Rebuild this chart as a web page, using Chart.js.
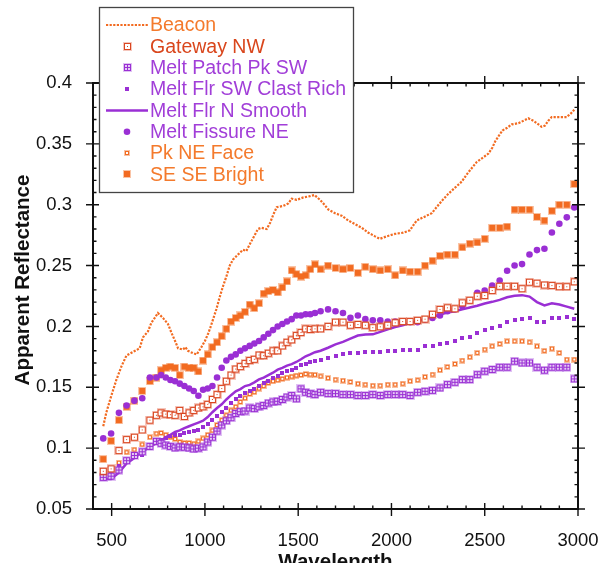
<!DOCTYPE html>
<html>
<head>
<meta charset="utf-8">
<script src="https://cdn.jsdelivr.net/npm/chart.js@4/dist/chart.umd.min.js"></script>
<style>
html,body{margin:0;padding:0;background:#fff;}
#wrap{width:598px;height:563px;}
canvas{display:block;}
</style>
</head>
<body>
<div id="wrap"><canvas id="chart" width="598" height="563"></canvas></div>
<script>
// ---------------- data ----------------
const seriesNames = ['Beacon', 'Gateway NW', 'Melt Patch Pk SW', 'Melt Flr SW Clast Rich',
  'Melt Flr N Smooth', 'Melt Fissure NE', 'Pk NE Face', 'SE SE Bright'];

const xTitle = 'Wavelength';
const yTitle = 'Apparent Reflectance';
const xTickValues = [500, 1000, 1500, 2000, 2500, 3000];
const xTickLabels = ['500', '1000', '1500', '2000', '2500', '3000'];
const yTickValues = [0.05, 0.1, 0.15, 0.2, 0.25, 0.3, 0.35, 0.4];
const yTickLabels = ['0.05', '0.1', '0.15', '0.2', '0.25', '0.3', '0.35', '0.4'];

const beaconWavelengths = [455,471,498,525,552,579,614,650,668,695,713,731,748,775,802,820,843,856,883,895,
  909,936,956,981,1000,1017,1029,1044,1061,1079,1097,1115,1133,1151,1177,1204,1222,1249,1267,1284,
  1302,1331,1349,1367,1385,1420,1447,1465,1492,1528,1563,1587,1617,1635,1662,1698,1733,1769,1805,1841,
  1876,1912,1938,1974,2018,2063,2099,2135,2162,2189,2216,2242,2269,2305,2341,2377,2404,2430,2457,2493,
  2520,2541,2556,2573,2595,2618,2645,2681,2708,2734,2761,2779,2805,2823,2841,2859,2895,2939,2962,2980];
const beacon = [0.118,0.129,0.143,0.156,0.167,0.176,0.179,0.182,0.191,0.196,0.203,0.207,0.211,0.207,0.202,0.195,0.187,0.182,0.181,0.183,
  0.180,0.178,0.177,0.183,0.188,0.194,0.199,0.206,0.214,0.224,0.233,0.241,0.250,0.255,0.259,0.263,0.262,0.270,0.275,0.280,
  0.281,0.280,0.285,0.292,0.298,0.299,0.301,0.305,0.304,0.306,0.307,0.308,0.304,0.301,0.296,0.293,0.291,0.287,0.284,0.281,
  0.277,0.274,0.272,0.274,0.276,0.277,0.279,0.287,0.289,0.291,0.293,0.298,0.303,0.309,0.314,0.319,0.325,0.330,0.335,0.339,
  0.342,0.347,0.352,0.356,0.361,0.363,0.366,0.367,0.369,0.371,0.369,0.367,0.364,0.365,0.369,0.372,0.372,0.372,0.375,0.378];

const wavelengths = [455,497,539,580,622,664,705,740,765,790,
  815,840,865,890,915,940,965,990,1015,1040,
  1065,1090,1115,1140,1165,1190,1215,1240,1265,1290,
  1315,1340,1365,1390,1415,1440,1465,1490,1515,1540,
  1565,1590,1620,1660,1700,1740,1780,1820,1860,1900,
  1940,1980,2020,2060,2100,2140,2180,2220,2260,2300,
  2340,2380,2420,2460,2500,2540,2580,2620,2660,2700,
  2740,2780,2820,2860,2900,2940,2980];

const gatewayNW = [0.081,0.083,0.098,0.107,0.109,0.115,0.123,0.127,0.129,0.128,
  0.1275,0.127,0.131,0.126,0.129,0.131,0.133,0.134,0.136,0.140,
  0.144,0.149,0.155,0.160,0.165,0.167,0.1695,0.172,0.173,0.1765,
  0.176,0.178,0.180,0.180,0.184,0.187,0.189,0.1925,0.195,0.198,
  0.1975,0.198,0.198,0.200,0.2035,0.2035,0.201,0.2016,0.201,0.199,
  0.1997,0.201,0.203,0.204,0.204,0.205,0.206,0.210,0.214,0.2153,
  0.2145,0.2194,0.2215,0.2248,0.2254,0.2295,0.233,0.233,0.233,0.231,
  0.2363,0.2355,0.234,0.2336,0.2326,0.2326,0.2367];

const meltPatchPkSW = [0.076,0.077,0.082,0.0897,0.094,0.097,0.1015,0.1056,0.104,0.1025,
  0.1015,0.1002,0.101,0.1008,0.1002,0.0993,0.100,0.101,0.105,0.109,
  0.114,0.119,0.1225,0.125,0.1285,0.130,0.1305,0.133,0.1325,0.134,
  0.135,0.137,0.138,0.1385,0.140,0.142,0.1432,0.1405,0.1487,0.1459,
  0.1448,0.144,0.1459,0.1448,0.1448,0.144,0.144,0.1432,0.1432,0.144,
  0.1432,0.144,0.144,0.144,0.1432,0.1459,0.1467,0.1475,0.1495,0.1522,
  0.1541,0.1563,0.1563,0.1604,0.1632,0.1646,0.1665,0.1665,0.1714,0.170,
  0.170,0.1665,0.164,0.1665,0.1665,0.1665,0.1569];

const meltFlrSWClastRich = [0.077,0.079,0.085,0.090,0.094,0.0946,0.100,0.104,0.107,0.108,
  0.110,0.1105,0.111,0.1125,0.113,0.1138,0.115,0.117,0.1195,0.123,
  0.1265,0.130,0.133,0.137,0.140,0.1425,0.145,0.147,0.149,0.151,
  0.1535,0.1555,0.1578,0.1595,0.1615,0.163,0.1645,0.166,0.168,0.169,
  0.1705,0.1712,0.1722,0.174,0.176,0.1775,0.1783,0.1783,0.179,0.179,
  0.179,0.180,0.180,0.181,0.181,0.181,0.1837,0.1837,0.1857,0.1865,
  0.1884,0.1906,0.1914,0.1947,0.1969,0.1988,0.2007,0.2035,0.2051,0.2062,
  0.207,0.2035,0.2035,0.207,0.207,0.2079,0.2062];

const meltFlrNSmooth = [0.0747,0.0747,0.080,0.0875,0.092,0.097,0.101,0.104,0.106,0.109,
  0.111,0.1133,0.1146,0.1165,0.118,0.1195,0.121,0.1225,0.1255,0.1295,
  0.133,0.136,0.140,0.1435,0.1467,0.1485,0.151,0.152,0.154,0.1565,
  0.158,0.160,0.162,0.1645,0.166,0.1678,0.169,0.1708,0.173,0.1755,
  0.177,0.1788,0.180,0.1825,0.1852,0.1873,0.190,0.1925,0.1933,0.1935,
  0.1955,0.1977,0.1995,0.201,0.2027,0.204,0.2062,0.2078,0.2098,0.2115,
  0.2125,0.214,0.2155,0.217,0.2188,0.2202,0.2218,0.224,0.2252,0.2257,
  0.2245,0.220,0.2172,0.219,0.218,0.2163,0.2145];

const meltFissureNE = [0.108,0.112,0.129,0.135,0.139,0.141,0.158,0.158,0.160,0.158,
  0.156,0.155,0.153,0.151,0.149,0.147,0.143,0.148,0.149,0.151,
  0.158,0.166,0.172,0.175,0.177,0.180,0.182,0.184,0.186,0.188,
  0.191,0.194,0.197,0.200,0.202,0.204,0.206,0.209,0.209,0.210,
  0.210,0.211,0.2125,0.214,0.2125,0.211,0.207,0.209,0.206,0.205,
  0.205,0.204,0.204,0.2035,0.2035,0.2035,0.2057,0.207,0.209,0.2125,
  0.214,0.2166,0.2215,0.2276,0.2295,0.2336,0.2377,0.2457,0.250,0.2512,
  0.2591,0.2627,0.2638,0.2772,0.2844,0.2896,0.2978];

const pkNEFace = [0.077,0.079,0.088,0.0966,0.0988,0.103,0.109,0.112,0.1125,0.111,
  0.109,0.1075,0.105,0.1043,0.1043,0.1037,0.1056,0.108,0.111,0.1145,
  0.119,0.123,0.127,0.131,0.134,0.138,0.141,0.1445,0.146,0.149,
  0.151,0.1536,0.155,0.1558,0.157,0.158,0.1588,0.1596,0.160,0.161,
  0.1605,0.1603,0.159,0.1575,0.1563,0.1555,0.1544,0.153,0.1522,0.1514,
  0.1514,0.1522,0.1522,0.153,0.155,0.1558,0.1586,0.1605,0.164,0.1668,
  0.1692,0.172,0.1747,0.1783,0.181,0.1837,0.1857,0.1878,0.1878,0.1878,
  0.187,0.1837,0.180,0.1818,0.1783,0.1728,0.1728];

const seSEBright = [0.091,0.106,0.123,0.134,0.139,0.147,0.155,0.158,0.164,0.166,
  0.167,0.166,0.160,0.167,0.166,0.166,0.163,0.172,0.177,0.183,
  0.187,0.192,0.198,0.204,0.207,0.209,0.212,0.218,0.215,0.219,
  0.227,0.229,0.230,0.228,0.232,0.237,0.246,0.243,0.241,0.242,
  0.247,0.251,0.247,0.250,0.248,0.247,0.248,0.244,0.249,0.247,
  0.246,0.247,0.242,0.246,0.245,0.245,0.250,0.254,0.258,0.259,
  0.259,0.265,0.268,0.269,0.272,0.281,0.281,0.282,0.296,0.296,
  0.296,0.290,0.287,0.295,0.300,0.300,0.317];

// ---------------- styles ----------------
const ORANGE = '#F26B21', RED = '#DA4620', PURPLE = '#9A2FD4';
const legendTextColors = ['#F47A2C', '#D9461C', '#A13ED8', '#A13ED8', '#A13ED8', '#A13ED8', '#F47A2C', '#F47A2C'];
const FONT = '"Liberation Sans", Arial, Helvetica, sans-serif';

function makeIcon(size, paint) {
  const c = document.createElement('canvas');
  c.width = size; c.height = size;
  paint(c.getContext('2d'));
  return c;
}
const icons = {
  gateway: makeIcon(9, g => {
    g.fillStyle = 'rgba(225,95,65,0.35)'; g.fillRect(0, 0, 9, 9);
    g.fillStyle = RED; g.fillRect(1, 1, 7, 7);
    g.fillStyle = '#fff'; g.fillRect(2, 2, 5, 5);
    g.fillStyle = RED; g.fillRect(4, 4, 1, 1);
  }),
  patch: makeIcon(9, g => {
    g.fillStyle = 'rgba(165,80,220,0.35)'; g.fillRect(0, 0, 9, 9);
    g.fillStyle = PURPLE; g.fillRect(1, 1, 7, 7);
    g.fillStyle = '#E6CCF5';
    [[2, 2], [5, 2], [2, 5], [5, 5]].forEach(([a, b]) => g.fillRect(a, b, 2, 2));
  }),
  clast: makeIcon(4, g => { g.fillStyle = PURPLE; g.fillRect(0, 0, 4, 4); }),
  pkne: makeIcon(6, g => {
    g.fillStyle = 'rgba(242,120,50,0.45)'; g.fillRect(0, 0, 6, 6);
    g.fillStyle = ORANGE; g.fillRect(1, 1, 4, 4);
    g.fillStyle = '#fff'; g.fillRect(2, 2, 2, 2);
  }),
  sese: makeIcon(8, g => {
    g.fillStyle = 'rgba(242,107,33,0.4)'; g.fillRect(0, 0, 8, 8);
    g.fillStyle = ORANGE; g.fillRect(1, 1, 6, 6);
  })
};

const xy = (xs, ys) => xs.map((x, i) => ({ x: x, y: ys[i] }));

const datasets = [
  { label: seriesNames[0], data: xy(beaconWavelengths, beacon), showLine: true, borderColor: ORANGE,
    borderWidth: 2.2, borderDash: [2.2, 1.4], pointRadius: 0, tension: 0 },
  { label: seriesNames[1], data: xy(wavelengths, gatewayNW), showLine: false, pointStyle: icons.gateway, pointRadius: 4.5 },
  { label: seriesNames[2], data: xy(wavelengths, meltPatchPkSW), showLine: false, pointStyle: icons.patch, pointRadius: 4.5 },
  { label: seriesNames[3], data: xy(wavelengths, meltFlrSWClastRich), showLine: false, pointStyle: icons.clast, pointRadius: 2 },
  { label: seriesNames[4], data: xy(wavelengths, meltFlrNSmooth), showLine: true, borderColor: PURPLE,
    borderWidth: 2.5, pointRadius: 0, tension: 0 },
  { label: seriesNames[5], data: xy(wavelengths, meltFissureNE), showLine: false, pointStyle: 'circle',
    pointRadius: 3.3, pointBackgroundColor: PURPLE, pointBorderWidth: 0, borderColor: PURPLE },
  { label: seriesNames[6], data: xy(wavelengths, pkNEFace), showLine: false, pointStyle: icons.pkne, pointRadius: 3 },
  { label: seriesNames[7], data: xy(wavelengths, seSEBright), showLine: false, pointStyle: icons.sese, pointRadius: 4 }
];

// ---------------- plugins ----------------
const framePlugin = {
  id: 'frame',
  afterDraw(chart) {
    const { ctx, chartArea: a, scales: { x, y } } = chart;
    ctx.save();
    ctx.strokeStyle = '#111';
    ctx.lineWidth = 2;
    ctx.strokeRect(a.left, a.top, a.right - a.left, a.bottom - a.top);
    ctx.lineWidth = 1.4;
    ctx.beginPath();
    for (let v = 500; v <= 3000; v += 100) {
      const px = x.getPixelForValue(v);
      const major = xTickValues.includes(v);
      if (major) {
        ctx.moveTo(px, a.bottom - 6); ctx.lineTo(px, a.bottom + 7);
        ctx.moveTo(px, a.top - 7); ctx.lineTo(px, a.top + 6);
      } else {
        ctx.moveTo(px, a.bottom - 3.5); ctx.lineTo(px, a.bottom);
        ctx.moveTo(px, a.top); ctx.lineTo(px, a.top + 3.5);
      }
    }
    for (let k = 5; k <= 40; k++) {
      const v = k / 100;
      const py = y.getPixelForValue(v);
      const major = k % 5 === 0;
      if (major) {
        ctx.moveTo(a.left - 7, py); ctx.lineTo(a.left + 6, py);
        ctx.moveTo(a.right - 6, py); ctx.lineTo(a.right + 7, py);
      } else {
        ctx.moveTo(a.left, py); ctx.lineTo(a.left + 3.5, py);
        ctx.moveTo(a.right - 3.5, py); ctx.lineTo(a.right, py);
      }
    }
    ctx.stroke();

    // axis titles
    ctx.fillStyle = '#111';
    ctx.font = 'bold 20.5px ' + FONT;
    ctx.textAlign = 'center';
    ctx.textBaseline = 'middle';
    ctx.fillText(xTitle, (a.left + a.right) / 2, 562);
    ctx.translate(23, 280);
    ctx.rotate(-Math.PI / 2);
    ctx.fillText(yTitle, 0, 0);
    ctx.restore();
  }
};

const legendPlugin = {
  id: 'boxLegend',
  afterDraw(chart) {
    const ctx = chart.ctx;
    const box = { x: 99, y: 7, w: 254, h: 185 };
    ctx.save();
    ctx.fillStyle = '#fff';
    ctx.fillRect(box.x, box.y, box.w, box.h);
    ctx.strokeStyle = '#444';
    ctx.lineWidth = 1.3;
    ctx.strokeRect(box.x + 0.5, box.y + 0.5, box.w, box.h);
    ctx.font = '19.5px ' + FONT;
    ctx.textBaseline = 'middle';
    ctx.textAlign = 'left';
    chart.data.datasets.forEach((ds, i) => {
      const cy = 25 + i * 21.35;
      const mx = 127;
      if (ds.showLine) {
        ctx.save();
        ctx.strokeStyle = ds.borderColor;
        ctx.lineWidth = ds.borderWidth;
        ctx.setLineDash(ds.borderDash || []);
        ctx.beginPath();
        ctx.moveTo(106, cy); ctx.lineTo(148, cy);
        ctx.stroke();
        ctx.restore();
      } else if (ds.pointStyle === 'circle') {
        ctx.fillStyle = ds.pointBackgroundColor;
        ctx.beginPath(); ctx.arc(mx, cy, ds.pointRadius, 0, Math.PI * 2); ctx.fill();
      } else {
        const im = ds.pointStyle;
        ctx.drawImage(im, Math.round(mx - im.width / 2), Math.round(cy - im.height / 2));
      }
      ctx.fillStyle = legendTextColors[i];
      ctx.fillText(ds.label, 150, cy + 1);
    });
    ctx.restore();
  }
};

// ---------------- chart ----------------
Chart.defaults.font.family = FONT;
new Chart(document.getElementById('chart'), {
  type: 'line',
  data: { datasets: datasets },
  options: {
    responsive: false,
    devicePixelRatio: 1,
    animation: false,
    layout: { padding: { top: 83, right: 20, bottom: 0, left: 0 } },
    plugins: { legend: { display: false }, tooltip: { enabled: false } },
    scales: {
      x: {
        type: 'linear', min: 400, max: 3000,
        grid: { display: false }, border: { display: false },
        afterBuildTicks: s => { s.ticks = xTickValues.map(v => ({ value: v })); },
        afterFit: s => { s.height = 54; s.paddingLeft = 0; s.paddingRight = 0; },
        ticks: { autoSkip: false, maxRotation: 0, padding: 13, color: '#111', font: { size: 18.5 },
          callback: (v, i) => xTickLabels[i] }
      },
      y: {
        type: 'linear', min: 0.05, max: 0.4,
        grid: { display: false }, border: { display: false },
        afterBuildTicks: s => { s.ticks = yTickValues.map(v => ({ value: v })); },
        afterFit: s => { s.width = 93; s.paddingTop = 0; s.paddingBottom = 0; },
        ticks: { autoSkip: false, padding: 13, color: '#111', font: { size: 18.5 },
          callback: (v, i) => yTickLabels[i] }
      }
    }
  },
  plugins: [framePlugin, legendPlugin]
});
</script>
</body>
</html>
